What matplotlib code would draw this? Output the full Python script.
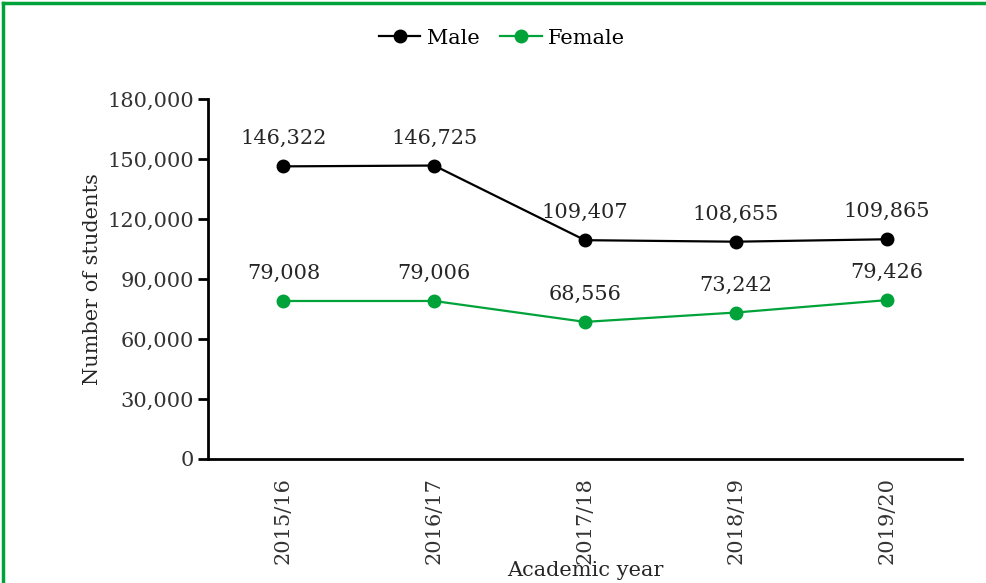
import matplotlib.pyplot as plt
from matplotlib.lines import Line2D

years = ['2015/16', '2016/17', '2017/18', '2018/19', '2019/20']
male = [146322, 146725, 109407, 108655, 109865]
female = [79008, 79006, 68556, 73242, 79426]
yticks = [0, 30000, 60000, 90000, 120000, 150000, 180000]

plt.rcParams['font.family'] = ['DejaVu Serif']
green = '#00a33a'
txt = '#262626'

fig = plt.figure(figsize=(9.86, 5.83), dpi=100)
ax = fig.add_axes([208 / 986, 1 - 459 / 583, 754 / 986, 360 / 583])

x = range(len(years))
ax.plot(x, male, color='black', marker='o', markersize=9, lw=1.6, label='Male')
ax.plot(x, female, color=green, marker='o', markersize=9, lw=1.6, label='Female')

for series in (male, female):
    for i, v in enumerate(series):
        ax.annotate(f'{v:,}', (i, v), xytext=(0, 13), textcoords='offset points',
                    ha='center', va='bottom', fontsize=15, color=txt)

ax.set_xlim(-0.5, len(years) - 0.5)
ax.set_ylim(0, 180000)
ax.set_yticks(yticks)
ax.set_yticklabels([f'{t:,}' for t in yticks], fontsize=15, color='#333333')
ax.set_xticks(list(x))
ax.set_xticklabels(years, rotation=90, fontsize=15, color='#333333')
ax.tick_params(axis='x', length=0, pad=13)
ax.tick_params(axis='y', length=7, width=2, pad=3)

for s in ['top', 'right']:
    ax.spines[s].set_visible(False)
for s in ['left', 'bottom']:
    ax.spines[s].set_linewidth(2)

ax.set_ylabel('Number of students', fontsize=15, color=txt, labelpad=4)
fig.text(585 / 986, 1 - 570 / 583, 'Academic year', fontsize=15, color=txt,
         ha='center', va='center')

ax.legend(loc='center', bbox_to_anchor=(502 / 986, 1 - 38 / 583),
          bbox_transform=fig.transFigure, ncol=2, frameon=False, fontsize=15,
          handlelength=2.0, columnspacing=1.0, handletextpad=0.3)

fig.add_artist(Line2D([3 / 986, 3 / 986], [0, 1 - 3 / 583], color=green, lw=2.5,
                      transform=fig.transFigure))
fig.add_artist(Line2D([3 / 986, 1], [1 - 3 / 583, 1 - 3 / 583], color=green, lw=2.5,
                      transform=fig.transFigure))

fig.savefig('out.png', dpi=100)
